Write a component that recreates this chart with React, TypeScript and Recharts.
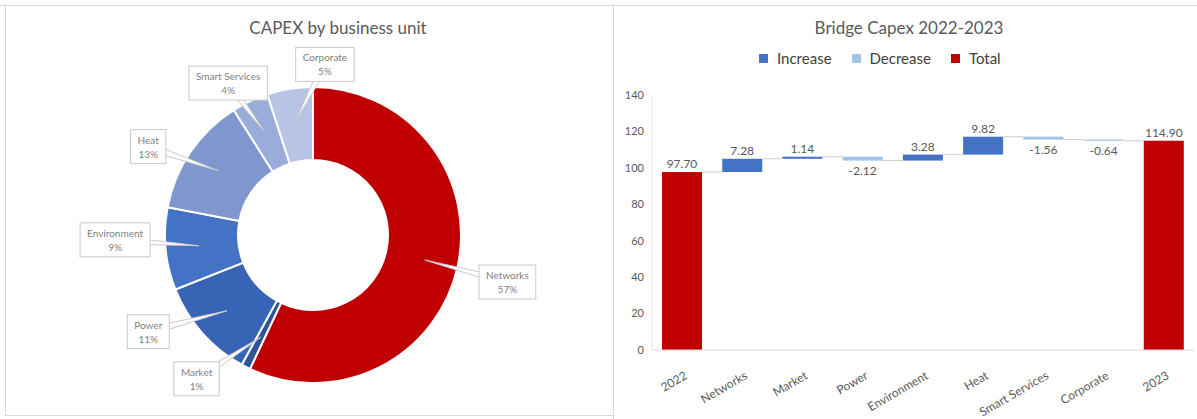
import { PieChart, Pie, Cell, BarChart, Bar, XAxis, YAxis, LabelList } from 'recharts'

// donut: share of capex per business unit (clockwise from 12 o'clock)
const units = ['Networks', 'Market', 'Power', 'Environment', 'Heat', 'Smart Services', 'Corporate']
const unitShare = [57, 1, 11, 9, 13, 4, 5]
const unitColors = ['#C00000', '#2F5597', '#3764B4', '#4472C4', '#7F96CF', '#9AACDA', '#B8C4E5']

// bridge 2022 -> 2023
const bridgeCategories = ['2022', 'Networks', 'Market', 'Power', 'Environment', 'Heat', 'Smart Services', 'Corporate', '2023']
const startTotal = 97.7
const deltas = [7.28, 1.14, -2.12, 3.28, 9.82, -1.56, -0.64]
const endTotal = 114.9
const yTicks = [0, 20, 40, 60, 80, 100, 120, 140]

const legendItems = [
  { name: 'Increase', color: '#4472C4' },
  { name: 'Decrease', color: '#9DC3E6' },
  { name: 'Total', color: '#C00000' },
]

const kindColor: Record<string, string> = {
  increase: '#4472C4',
  decrease: '#9DC3E6',
  total: '#C00000',
}

const pieData = units.map((name, i) => ({ name, value: unitShare[i] }))

// build invisible base + visible step for the waterfall
const bridgeData = (() => {
  const rows: { name: string; base: number; size: number; kind: string; label: string }[] = []
  rows.push({ name: bridgeCategories[0], base: 0, size: startTotal, kind: 'total', label: startTotal.toFixed(2) })
  let level = startTotal
  deltas.forEach((d, i) => {
    const next = level + d
    rows.push({
      name: bridgeCategories[i + 1],
      base: Math.min(level, next),
      size: Math.abs(d),
      kind: d >= 0 ? 'increase' : 'decrease',
      label: d.toFixed(2),
    })
    level = next
  })
  rows.push({ name: bridgeCategories[bridgeCategories.length - 1], base: 0, size: endTotal, kind: 'total', label: endTotal.toFixed(2) })
  return rows
})()

// callout placement tweaks (angle shift in degrees, distance from centre)
const calloutNudge: Record<string, [number, number]> = {
  Networks: [-1, 200],
  Market: [-12, 185],
  Power: [-11, 191],
  Environment: [-4, 198],
  Heat: [6, 187],
  'Smart Services': [4, 174],
  Corporate: [-13, 171],
}

const RAD = Math.PI / 180
const polar = (cx: number, cy: number, r: number, deg: number) => ({
  x: cx + r * Math.cos(-deg * RAD),
  y: cy + r * Math.sin(-deg * RAD),
})

let measureCtx: CanvasRenderingContext2D | null = null
const textWidth = (s: string, font: string) => {
  if (!measureCtx) measureCtx = document.createElement('canvas').getContext('2d')
  if (!measureCtx) return s.length * 5.5
  measureCtx.font = font
  return measureCtx.measureText(s).width
}

const LABEL_FONT = '10px Lato'

const renderCallout = (props: any) => {
  const { cx, cy, midAngle, innerRadius, outerRadius, name, percent } = props
  const [shift, dist] = calloutNudge[name] || [0, outerRadius + 45]
  const c = polar(cx, cy, dist, midAngle + shift)
  const tip = polar(cx, cy, (innerRadius + outerRadius) / 2 + 3, midAngle)
  const pct = `${Math.round(percent * 100)}%`
  const w = Math.max(textWidth(name, LABEL_FONT), textWidth(pct, LABEL_FONT)) + 14
  const h = 34
  // wedge pointer from box centre to the slice
  const dx = tip.x - c.x
  const dy = tip.y - c.y
  const len = Math.sqrt(dx * dx + dy * dy) || 1
  const px = (-dy / len) * 4
  const py = (dx / len) * 4
  return (
    <g key={name}>
      <polygon
        points={`${c.x + px},${c.y + py} ${tip.x},${tip.y} ${c.x - px},${c.y - py}`}
        fill="#fff"
        stroke="#C9C9C9"
        strokeWidth={1}
      />
      <rect x={c.x - w / 2} y={c.y - h / 2} width={w} height={h} fill="#fff" stroke="#C9C9C9" strokeWidth={1} />
      <text x={c.x} y={c.y - 3} textAnchor="middle" fontSize={10} fontFamily="Lato" fill="#7F7F7F">
        {name}
      </text>
      <text x={c.x} y={c.y + 11} textAnchor="middle" fontSize={10} fontFamily="Lato" fill="#7F7F7F">
        {pct}
      </text>
    </g>
  )
}

// right chart layout
const BAR_CHART_W = 584
const BAR_CHART_H = 414
const BAR_MARGIN = { top: 90, right: 3, left: 9, bottom: 9 }
const Y_AXIS_W = 30
const BAR_W = 40
const PLOT_W = BAR_CHART_W - BAR_MARGIN.left - BAR_MARGIN.right - Y_AXIS_W
const GAP = PLOT_W / bridgeData.length - BAR_W

const StepBar = (props: any) => {
  const { x, y, width, height, index } = props
  const row = bridgeData[index]
  const endY = row.kind === 'decrease' ? y + height : y
  return (
    <g>
      <rect x={x} y={y} width={width} height={Math.max(height, 1)} fill={kindColor[row.kind]} />
      {index < bridgeData.length - 1 && (
        <line x1={x + width} x2={x + width + GAP} y1={endY} y2={endY} stroke="#CFCFCF" strokeWidth={1} />
      )}
    </g>
  )
}

const ValueLabel = (props: any) => {
  const vb = props.viewBox || props
  const x = vb.x
  const width = vb.width
  const top = Math.min(vb.y, vb.y + vb.height)
  const bottom = Math.max(vb.y, vb.y + vb.height)
  const row = bridgeData[props.index]
  if (!row) return null
  const ty = row.kind === 'decrease' ? bottom + 14 : top - 4
  return (
    <text x={x + width / 2} y={ty} textAnchor="middle" fontSize={12} fontFamily="Lato" fill="#595959">
      {row.label}
    </text>
  )
}

const SlantTick = (props: any) => {
  const { x, y, payload } = props
  return (
    <g transform={`translate(${x + 6},${y + 20})`}>
      <text textAnchor="end" transform="rotate(-30)" fontSize={12} fontFamily="Lato" fill="#595959">
        {payload.value}
      </text>
    </g>
  )
}

const line = (style: React.CSSProperties) => (
  <div style={{ position: 'absolute', background: '#D9D9D9', ...style }} />
)

export default function App() {
  return (
    <div
      style={{
        position: 'absolute',
        left: 0,
        top: 0,
        width: 1197,
        height: 419,
        background: '#fff',
        overflow: 'hidden',
        fontFamily: 'Lato, sans-serif',
      }}
    >
      {line({ left: 0, top: 5, width: 1197, height: 1 })}
      {line({ left: 5, top: 5, width: 1, height: 411 })}
      {line({ left: 5, top: 415, width: 608, height: 1 })}
      {line({ left: 613, top: 5, width: 1, height: 414 })}

      <div
        style={{
          position: 'absolute',
          left: 0,
          top: 17,
          width: 676,
          textAlign: 'center',
          fontSize: 17,
          lineHeight: '22px',
          color: '#595959',
        }}
      >
        CAPEX by business unit
      </div>

      <div style={{ position: 'absolute', left: 0, top: 0 }}>
        <PieChart width={613} height={419} margin={{ top: 0, right: 0, bottom: 0, left: 0 }}>
          <Pie
            data={pieData}
            dataKey="value"
            nameKey="name"
            cx={313}
            cy={235}
            innerRadius={75}
            outerRadius={148}
            startAngle={90}
            endAngle={-270}
            stroke="#fff"
            strokeWidth={2}
            label={renderCallout}
            labelLine={false}
            isAnimationActive={false}
          >
            {pieData.map((d, i) => (
              <Cell key={d.name} fill={unitColors[i]} />
            ))}
          </Pie>
        </PieChart>
      </div>

      <div
        style={{
          position: 'absolute',
          left: 613,
          top: 17,
          width: 592,
          textAlign: 'center',
          fontSize: 17,
          lineHeight: '22px',
          color: '#595959',
        }}
      >
        Bridge Capex 2022-2023
      </div>

      <div
        style={{
          position: 'absolute',
          left: 759,
          top: 49,
          display: 'flex',
          alignItems: 'center',
          gap: 20,
          fontSize: 15,
          color: '#404040',
        }}
      >
        {legendItems.map((it) => (
          <div key={it.name} style={{ display: 'flex', alignItems: 'center', gap: 9 }}>
            <span style={{ width: 9, height: 9, background: it.color, display: 'inline-block' }} />
            <span>{it.name}</span>
          </div>
        ))}
      </div>

      <div style={{ position: 'absolute', left: 613, top: 5 }}>
        <BarChart width={BAR_CHART_W} height={BAR_CHART_H} data={bridgeData} margin={BAR_MARGIN} barSize={BAR_W}>
          <XAxis
            dataKey="name"
            interval={0}
            tickLine={false}
            axisLine={{ stroke: '#D9D9D9' }}
            height={60}
            tick={<SlantTick />}
          />
          <YAxis
            domain={[0, 140]}
            ticks={yTicks}
            width={Y_AXIS_W}
            tickLine={false}
            axisLine={{ stroke: '#E3E3E3' }}
            tick={{ fontSize: 11, fill: '#595959', fontFamily: 'Lato' }}
          />
          <Bar dataKey="base" stackId="w" fill="transparent" isAnimationActive={false} />
          <Bar dataKey="size" stackId="w" shape={<StepBar />} isAnimationActive={false}>
            <LabelList dataKey="size" content={<ValueLabel />} />
          </Bar>
        </BarChart>
      </div>
    </div>
  )
}
